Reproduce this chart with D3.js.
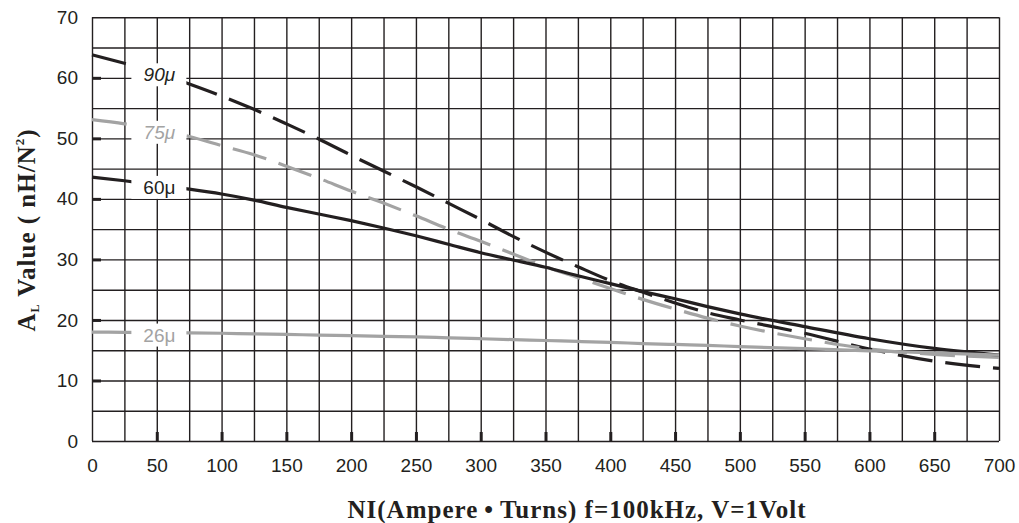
<!DOCTYPE html>
<html>
<head>
<meta charset="utf-8">
<script src="https://cdn.jsdelivr.net/npm/d3@7"></script>
<style>
body { margin: 0; background: #fff; }
svg text { font-family: "Liberation Sans", Arial, sans-serif; }
</style>
</head>
<body>
<div class="canva"></div>
<script>
// data
const ni = [0, 25, 50, 75, 100, 125, 150, 175, 200, 225, 250, 275, 300, 325, 350, 375, 400, 425, 450, 475, 500, 550, 600, 650, 700];
const mu90 = [63.8, 62.4, 60.9, 59.0, 57.0, 54.8, 52.4, 49.9, 47.2, 44.6, 42.0, 39.3, 36.6, 33.8, 31.2, 28.8, 26.5, 24.6, 22.8, 21.2, 20.0, 17.8, 15.2, 13.2, 12.0];
const mu75 = [53.1, 52.4, 51.4, 50.3, 48.8, 47.3, 45.4, 43.4, 41.3, 39.3, 37.2, 35.0, 33.0, 30.9, 28.8, 27.0, 25.2, 23.4, 21.8, 20.3, 19.0, 16.9, 15.2, 14.3, 13.8];
const mu60 = [43.6, 43.0, 42.3, 41.6, 40.8, 39.8, 38.6, 37.5, 36.4, 35.2, 33.9, 32.5, 31.1, 29.9, 28.7, 27.3, 26.0, 24.7, 23.5, 22.2, 21.0, 18.9, 16.9, 15.3, 14.2];
const mu26 = [18.0, 17.95, 17.9, 17.85, 17.8, 17.7, 17.6, 17.5, 17.4, 17.3, 17.2, 17.05, 16.9, 16.75, 16.6, 16.45, 16.3, 16.1, 15.95, 15.8, 15.6, 15.25, 14.9, 14.55, 14.2];
const seriesNames = ['90μ', '75μ', '60μ', '26μ'];
const xTickLabels = [0, 50, 100, 150, 200, 250, 300, 350, 400, 450, 500, 550, 600, 650, 700];
const yTickLabels = [0, 10, 20, 30, 40, 50, 60, 70];
const xGrid = [0, 25, 50, 75, 100, 125, 150, 175, 200, 225, 250, 275, 300, 325, 350, 375, 400, 425, 450, 475, 500, 525, 550, 575, 600, 625, 650, 675, 700];
const yGrid = [0, 5, 10, 15, 20, 25, 30, 35, 40, 45, 50, 55, 60, 65, 70];

const ink = '#231f20';
const grey = '#a3a3a3';

const svg = d3.select('.canva').append('svg')
  .attr('width', 1019)
  .attr('height', 523);

const x = d3.scaleLinear().domain([0, 700]).range([92, 999]);
const y = d3.scaleLinear().domain([0, 70]).range([441, 17.3]);

// grid
svg.append('g')
  .attr('transform', 'translate(0,441)')
  .call(d3.axisBottom(x).tickValues(xGrid).tickSize(-(441 - 17.3)).tickFormat(''))
  .call(g => g.select('.domain').remove())
  .selectAll('line').attr('stroke', ink).attr('stroke-width', 1.4);

svg.append('g')
  .attr('transform', 'translate(92,0)')
  .call(d3.axisLeft(y).tickValues(yGrid).tickSize(-(999 - 92)).tickFormat(''))
  .call(g => g.select('.domain').remove())
  .selectAll('line').attr('stroke', ink).attr('stroke-width', 1.4);

// short thick ticks inside the frame
svg.append('g')
  .attr('transform', 'translate(0,441)')
  .call(d3.axisTop(x).tickValues(xTickLabels.slice(1, -1)).tickSize(9).tickFormat(''))
  .call(g => g.select('.domain').remove())
  .selectAll('line').attr('stroke', ink).attr('stroke-width', 3);

svg.append('g')
  .attr('transform', 'translate(92,0)')
  .call(d3.axisRight(y).tickValues(yTickLabels.slice(1, -1)).tickSize(9).tickFormat(''))
  .call(g => g.select('.domain').remove())
  .selectAll('line').attr('stroke', ink).attr('stroke-width', 3);

// tick labels
const xAx = svg.append('g')
  .attr('transform', 'translate(0,441)')
  .call(d3.axisBottom(x).tickValues(xTickLabels).tickSize(0).tickPadding(18));
xAx.select('.domain').remove();
xAx.selectAll('text').attr('font-size', 19).attr('fill', ink)
  .style('font-family', '"Liberation Sans", Arial, sans-serif');

const yAx = svg.append('g')
  .attr('transform', 'translate(92,0)')
  .call(d3.axisLeft(y).tickValues(yTickLabels).tickSize(0).tickPadding(14));
yAx.select('.domain').remove();
yAx.selectAll('text').attr('font-size', 19).attr('fill', ink)
  .style('font-family', '"Liberation Sans", Arial, sans-serif');

// curves
const series = [
  {name: seriesNames[0], values: mu90, color: ink, dash: '35,13', italic: true},
  {name: seriesNames[1], values: mu75, color: grey, dash: '35,13', italic: true},
  {name: seriesNames[2], values: mu60, color: ink, dash: null, italic: false},
  {name: seriesNames[3], values: mu26, color: grey, dash: null, italic: false}
];

const line = d3.line()
  .x((d, i) => x(ni[i]))
  .y(d => y(d))
  .curve(d3.curveMonotoneX);

svg.selectAll('path.curve')
  .data(series)
  .enter()
  .append('path')
  .attr('class', 'curve')
  .attr('d', d => line(d.values))
  .attr('fill', 'none')
  .attr('stroke', d => d.color)
  .attr('stroke-width', 3.2)
  .attr('stroke-dasharray', d => d.dash);

// curve labels on white patches
const lab = svg.selectAll('g.lab')
  .data(series)
  .enter()
  .append('g')
  .attr('class', 'lab')
  .attr('transform', d => 'translate(' + x(52) + ',' + y(d.values[2] - 0.4) + ')');

lab.append('rect')
  .attr('x', -28)
  .attr('y', -11.5)
  .attr('width', 55)
  .attr('height', 23)
  .attr('fill', '#fff');

lab.append('text')
  .attr('text-anchor', 'middle')
  .attr('dy', '0.35em')
  .attr('font-size', 19)
  .attr('font-style', d => d.italic ? 'italic' : 'normal')
  .attr('fill', d => d.color)
  .text(d => d.name);

// axis titles
svg.append('text')
  .attr('x', 577)
  .attr('y', 518)
  .attr('text-anchor', 'middle')
  .attr('font-size', 25)
  .attr('font-weight', 'bold')
  .attr('letter-spacing', 1)
  .attr('fill', ink)
  .style('font-family', '"Liberation Serif", "Times New Roman", serif')
  .text('NI(Ampere\u2009\u2022\u2009Turns) f=100kHz, V=1Volt');

const yt = svg.append('text')
  .attr('transform', 'translate(35,230) rotate(-90)')
  .attr('text-anchor', 'middle')
  .attr('font-size', 25)
  .attr('font-weight', 'bold')
  .attr('letter-spacing', 1)
  .attr('fill', ink)
  .style('font-family', '"Liberation Serif", "Times New Roman", serif');
yt.append('tspan').text('A');
yt.append('tspan').attr('font-size', 12).attr('dy', 4).text('L');
yt.append('tspan').attr('dy', -4).text(' Value ( nH/N');
yt.append('tspan').attr('font-size', 13).attr('dy', -11).text('2');
yt.append('tspan').attr('dy', 11).text(')');
</script>
</body>
</html>
